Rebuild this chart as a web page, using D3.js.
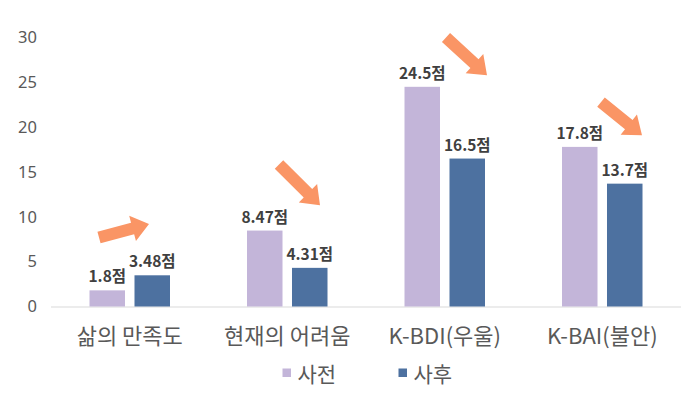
<!DOCTYPE html>
<html><head><meta charset="utf-8">
<script src="https://cdn.jsdelivr.net/npm/d3@7/dist/d3.min.js"></script>
<style>
html,body{margin:0;padding:0;background:#fff;}
text{font-family:"Noto Sans CJK KR","Noto Sans",sans-serif;}
</style></head>
<body><svg id="c" width="691" height="397"></svg>
<script>
const categories = ["삶의 만족도", "현재의 어려움", "K-BDI(우울)", "K-BAI(불안)"];
const seriesNames = ["사전", "사후"];
const preValues = [1.8, 8.47, 24.5, 17.8];
const postValues = [3.48, 4.31, 16.5, 13.7];
const valueLabels = [["1.8점","3.48점"],["8.47점","4.31점"],["24.5점","16.5점"],["17.8점","13.7점"]];
const yTicks = [0, 5, 10, 15, 20, 25, 30];
// decorative trend arrows: anchored to category band (offset px) and value scale
const arrows = [
  {cat:0, x1:48, v1:7.7, x2:98, v2:9.2},
  {cat:1, x1:70.5, v1:15.85, x2:111.5, v2:11.3},
  {cat:2, x1:80, v1:30.0, x2:121, v2:25.8},
  {cat:3, x1:77.5, v1:22.8, x2:118.5, v2:19.1}
];

const colors = {"사전":"#C3B5D9","사후":"#4D71A0"};
const svg = d3.select("#c");
const x0 = d3.scaleBand().domain(categories).range([51, 681]).padding(0);
const x1 = d3.scaleBand().domain(seriesNames).range([38.5, 119]).paddingInner(0.211).paddingOuter(0);
const y = d3.scaleLinear().domain([0, 30]).range([306.5, 37.5]);

// y tick labels
const yAxis = d3.axisLeft(y).tickValues(yTicks).tickSize(0).tickPadding(0);
const ya = svg.append("g").attr("transform","translate(37,0)").call(yAxis);
ya.select(".domain").remove();
ya.selectAll("text").attr("fill","#595959").style("font-size","16.5px")
  .style("font-family",'"Noto Sans","Noto Sans CJK KR",sans-serif');

// baseline
svg.append("line").attr("x1",51).attr("x2",681).attr("y1",y(0)+0.5).attr("y2",y(0)+0.5)
  .attr("stroke","#D9D9D9").attr("stroke-width",1);

const data = categories.map((c,i)=>({cat:c, vals:[
  {s:"사전", v:preValues[i], label:valueLabels[i][0]},
  {s:"사후", v:postValues[i], label:valueLabels[i][1]}]}));

const g = svg.selectAll("g.grp").data(data).enter().append("g")
  .attr("class","grp").attr("transform",d=>`translate(${x0(d.cat)},0)`);
g.selectAll("rect").data(d=>d.vals).enter().append("rect")
  .attr("x",d=>x1(d.s)).attr("width",x1.bandwidth())
  .attr("y",d=>y(d.v)).attr("height",d=>y(0)-y(d.v))
  .attr("fill",d=>colors[d.s]);
g.selectAll("text.val").data(d=>d.vals).enter().append("text")
  .attr("class","val")
  .attr("x",d=>x1(d.s)+x1.bandwidth()/2).attr("y",d=>y(d.v)-8)
  .attr("text-anchor","middle").attr("fill","#404040")
  .style("font-size","15.5px").style("font-weight","700")
  .text(d=>d.label);

// category labels
const xAxis = d3.axisBottom(x0).tickSize(0).tickPadding(0);
const xa = svg.append("g").attr("transform",`translate(0,${y(0)+22})`).call(xAxis);
xa.select(".domain").remove();
xa.selectAll("text").attr("fill","#595959").style("font-size","22px")
  .style("font-family",'"Noto Sans CJK KR",sans-serif');

// arrows
const sw = 12, hw = 26, hl = 17;
arrows.forEach(a=>{
  const bx = x0(categories[a.cat]);
  const ax = bx + a.x1, ay = y(a.v1), bx2 = bx + a.x2, by = y(a.v2);
  const L = Math.hypot(bx2-ax, by-ay);
  const ang = Math.atan2(by-ay, bx2-ax)*180/Math.PI;
  const pts = [[0,-sw/2],[L-hl,-sw/2],[L-hl,-hw/2],[L,0],[L-hl,hw/2],[L-hl,sw/2],[0,sw/2]];
  svg.append("path").attr("d","M"+pts.map(p=>p.join(",")).join("L")+"Z")
    .attr("transform",`translate(${ax},${ay}) rotate(${ang})`)
    .attr("fill","#FA9565");
});

// legend
const legend = svg.append("g").attr("transform","translate(0,375)");
const lx = [282.5, 398.5];
seriesNames.forEach((s,i)=>{
  legend.append("rect").attr("x",lx[i]).attr("y",-6.5).attr("width",8.5).attr("height",8.5).attr("fill",colors[s]);
  legend.append("text").attr("x",lx[i]+15).attr("y",0).attr("dy","0.35em")
    .attr("fill","#595959").style("font-size","21px").text(s);
});
</script></body></html>
